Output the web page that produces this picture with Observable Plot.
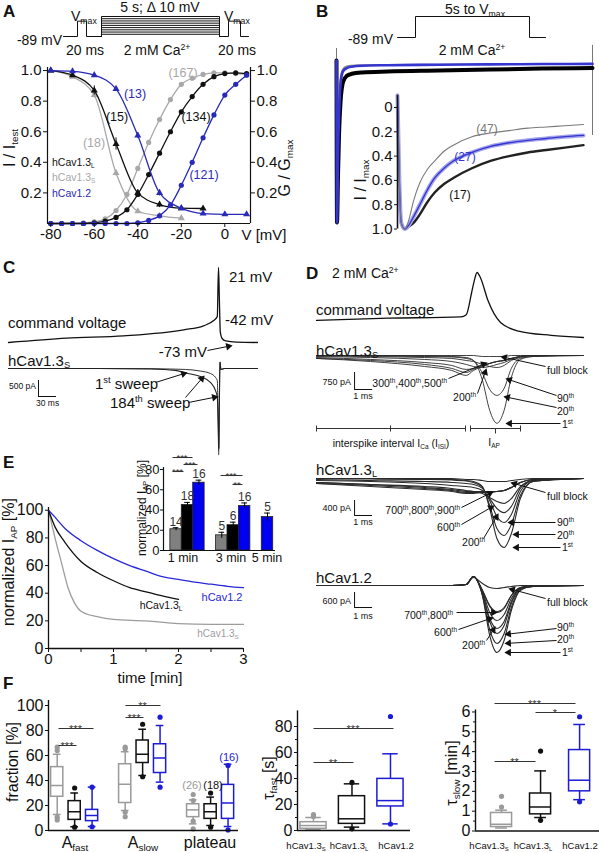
<!DOCTYPE html>
<html><head><meta charset="utf-8">
<script src="https://cdn.jsdelivr.net/npm/d3@7"></script>
<script src="https://cdn.jsdelivr.net/npm/@observablehq/plot@0.6"></script>
<style>
html,body{margin:0;padding:0;background:#fff;}
#fig{position:relative;width:599px;height:853px;overflow:hidden;font-family:Arial,"Liberation Sans",Helvetica,sans-serif;color:#111;background:#fff;}
#fig svg{position:absolute;left:0;top:0;max-width:none;}
.t{position:absolute;line-height:1;white-space:nowrap;}
.t sub{font-size:0.62em;vertical-align:-0.3em;line-height:0;}
.t sup{font-size:0.62em;vertical-align:0.6em;line-height:0;}
</style></head><body><div id="fig"></div>
<script>
// ================= DATA =================
// ---- Panel A: steady-state inactivation (triangles) and activation (circles)
const aInactV   = [-80,-70,-60,-50,-40,-30,-20,-10,0,10];
const aInactL   = [1.0,0.97,0.87,0.52,0.20,0.124,0.10,0.098];
const aInactLe  = [0.01,0.015,0.03,0.04,0.02,0.02,0.01,0.01];
const aInactS   = [1.0,0.96,0.84,0.33,0.08,0.05,0.035];
const aInactSe  = [0.01,0.01,0.02,0.02,0.01,0.01,0.01];
const aInact12  = [1.0,0.995,0.97,0.88,0.575,0.20,0.10,0.065,0.06,0.06];
const aInact12e = [0.01,0.01,0.01,0.01,0.02,0.02,0.01,0.01,0.01,0.01];
const aActV  = [-80,-75,-70,-65,-60,-55,-50,-45,-40,-35,-30,-25,-20,-15,-10,-5,0,5,10];
const aActS  = [0,0,0,0.005,0.01,0.03,0.085,0.19,0.36,0.53,0.68,0.81,0.91,0.95,0.975,0.985,0.985,0.98,0.975];
const aActL  = [0,0,0,0,0.005,0.015,0.04,0.09,0.19,0.32,0.46,0.60,0.73,0.83,0.91,0.96,0.98,0.985,0.98];
const aAct12 = [0,0,0,0,0,0,0,0,0.005,0.02,0.05,0.12,0.25,0.40,0.56,0.71,0.84,0.91,0.97];
const aXLim = [-81.5, 11.8];
const aXTicks = [-80,-60,-40,-20,0];
const aYTicks = [0.2,0.4,0.6,0.8,1.0];
// protocol schematics (mV)
const protoHold = -89, protoVmax = -20;
const protoSteps = [-79,-69,-59,-49,-39,-29,-19,-9,1];
const protoPreT = [0,14,14,23,23,38];
const protoStepT = [38,38,156,156];
const protoPostT = [156,165,165,177,177,185];
const protoBT = [0,18,18,132,132,148];

// ---- Panel B: normalized current during 5 s pulse (s)
const bT     = [0,0.01,0.03,0.05,0.08,0.13,0.2,0.3,0.5,1,2,3,4,5];
const bL     = [0,-1,-0.7,-0.45,-0.25,-0.13,-0.095,-0.082,-0.074,-0.068,-0.062,-0.056,-0.05,-0.046];
const bS     = [0,-1,-0.5,-0.26,-0.1,-0.05,-0.036,-0.031,-0.028,-0.026,-0.024,-0.022,-0.021,-0.02];
const b12    = [0,-1,-0.58,-0.34,-0.14,-0.065,-0.047,-0.038,-0.032,-0.029,-0.026,-0.024,-0.022,-0.021];
const bArtT  = [0,5], bArtTop = [0.074,0.093], bArtBot = [-1,-0.463];
// inset: I/Imax
const biT  = [0,0.05,0.1,0.2,0.3,0.43,0.6,0.8,1,1.25,1.5,2,2.5,3,3.5,4,4.5,5];
const biS  = [-0.1,0.6,0.95,1.0,0.93,0.77,0.62,0.51,0.44,0.36,0.31,0.24,0.21,0.19,0.17,0.16,0.15,0.14];
const bi12 = [-0.1,0.6,0.95,1.0,0.97,0.9,0.8,0.68,0.58,0.5,0.44,0.37,0.32,0.29,0.27,0.255,0.24,0.23];
const biL  = [-0.1,0.6,0.95,1.0,0.98,0.95,0.88,0.78,0.7,0.63,0.58,0.5,0.44,0.4,0.37,0.35,0.33,0.31];
const biTicks = [0,0.2,0.4,0.6,0.8,1.0];

// ---- Panel C: command voltage (mV) and currents (pA) vs time (ms)
const cCmdT = [0,97,192,292,325,342,348,350,351.5,353,356,362,380,415];
const cCmdV = [-73,-67.5,-64.6,-57.1,-52.1,-45.5,-40.5,21,-20,-60,-68,-71,-72.5,-73];
const cCurT = [0,150,237,278,295,320,337,345,348,349.5,350.5,351.5,352.5,354,360,415];
const cSweep1   = [0,0,-15,-60,-140,-250,-440,-690,-900,-1800,-2700,-1000,200,-30,0,0];
const cSweep184 = [0,0,-5,-20,-30,-80,-160,-280,-380,-1600,-2500,-900,200,-30,0,0];
const cScale = {t: 50, i: -375, dI: 500, dT: 30};

// ---- Panel D: AP-train currents (pA) vs time (ms)
const dCmdT = [0,4,8,8.3,8.6,8.75,8.9,9.1,9.5,10.2,11.2,13,14.8];
const dCmdV = [-47,-44,-42,-39,-8,9,20,12,-19,-50,-62,-68,-71];
const dT = [0,3,6,7.5,8.3,8.7,9.2,9.6,10.0,10.4,10.8,11.3,12,14.8];
const dS = {
  "1st":   [0,0,-20,-45,-90,-220,-1100,-2420,-2990,-2420,-970,-175,-45,0],
  "20th":  [0,-20,-45,-65,-130,-220,-790,-1500,-1760,-1450,-570,-130,-45,0],
  "90th":  [-20,-45,-90,-130,-220,-265,-395,-485,-530,-440,-220,-90,0,0],
  "200th": [-45,-90,-175,-265,-395,-485,-530,-485,-395,-310,-175,-45,0,0],
  "300th": [-90,-175,-310,-440,-615,-570,-440,-350,-265,-220,-130,-45,0,0],
  "400th": [-130,-220,-395,-570,-750,-615,-440,-350,-265,-220,-130,-45,0,0],
  "500th": [-130,-265,-485,-660,-880,-660,-485,-350,-265,-220,-130,-45,0,0],
  "block": [0,0,0,0,0,0,-45,-45,-45,-45,0,0,0,0]
};
const dL = {
  "1st":   [0,0,-15,-25,-55,-80,-215,-800,-1600,-1840,-1470,-535,-80,0],
  "20th":  [0,-15,-25,-40,-65,-105,-240,-720,-1335,-1520,-1230,-455,-80,0],
  "90th":  [-25,-55,-80,-105,-135,-160,-265,-585,-1015,-1175,-960,-345,-55,0],
  "200th": [-55,-80,-135,-185,-215,-240,-320,-535,-800,-910,-745,-265,-55,0],
  "600th": [-105,-160,-215,-265,-320,-345,-400,-505,-615,-665,-535,-215,-55,0],
  "700th": [-105,-160,-240,-295,-345,-345,-345,-345,-345,-320,-240,-105,-25,0],
  "800th": [-135,-185,-265,-320,-375,-375,-375,-345,-345,-320,-240,-105,-25,0],
  "900th": [-135,-215,-295,-345,-400,-400,-375,-375,-345,-320,-240,-105,-25,0],
  "block": [0,0,0,0,-25,-25,-55,-80,-80,-80,-55,-25,0,0]
};
const d12 = {
  "1st":   [0,0,0,0,40,360,-400,-2000,-2680,-2200,-1000,-200,-40,0],
  "20th":  [0,0,0,0,40,360,-400,-1760,-2320,-1920,-880,-160,-40,0],
  "90th":  [0,0,0,0,40,360,-320,-1440,-1920,-1600,-720,-120,-40,0],
  "200th": [0,0,0,0,40,360,-320,-1320,-1720,-1440,-640,-120,-40,0],
  "600th": [0,0,0,0,40,360,-240,-1080,-1400,-1160,-520,-120,0,0],
  "700th": [0,0,0,0,40,360,-200,-840,-1080,-920,-400,-80,0,0],
  "800th": [0,0,0,0,40,360,-200,-800,-1040,-880,-400,-80,0,0],
  "block": [0,0,0,0,40,320,80,-80,-120,-80,-40,0,0,0]
};
const dScaleT = 2.11;
const dScaleS = [-750, 750], dScaleL = [-587, 400], dScale12 = [-280, 600];

// ---- Panel E: normalized I_AP (%) vs time (min)
const eT12 = [0,0.1,0.25,0.5,0.75,1,1.25,1.5,1.75,2,2.25,2.5,2.75,3];
const eV12 = [100,95,87,78,71,65,60,56,52,50,48,46.5,45,44];
const eTL  = [0,0.1,0.25,0.5,0.75,1,1.25,1.5,1.75,2];
const eVL  = [100,88,77,63,55,49,44,41,38,35.5];
const eTS  = [0,0.05,0.1,0.2,0.3,0.4,0.5,0.75,1,1.5,2,2.5,3];
const eVS  = [100,90,80,62,44,33,27,23,21,20,18,17.5,17.5];
const eXTicks = [0,0.5,1,1.5,2,2.5,3];
const eYTicks = [0,20,40,60,80,100];
// inset bars
const eBarGroup = ["1 min","1 min","1 min","3 min","3 min","3 min","5 min"];
const eBarIso   = ["S","L","1.2","S","L","1.2","1.2"];
const eBarVal   = [21,45,67,15,25,44,33];
const eBarErr   = [1.5,2.5,2.5,3,3,3,4];
const eBarN     = [14,18,16,5,6,16,5];
const eInsetTicks = [0,20,40,60,80];

// ---- Panel F: box plot summaries
const fGroups = ["A_fast","A_slow","plateau"];
const fQ1  = [27,8.5,7.5, 22,54,46, 10.7,9.3,9.3];
const fMed = [36,15,12, 37,61,58, 16.5,15,22];
const fQ3  = [50.7,23.5,16.5, 53,72,69, 21,21,36.5];
const fLo  = [12.8,3,3.2, 16,44,38.7, 5.3,4,3.2];
const fHi  = [61,30,34.7, 63,81,84, 24.5,26.7,53];
const fOutIdx = [0,0,0,0,1,1,2,2,3,3,3,3,4,4,5,5,6,6,6,6,7,7,8,8];
const fOutVal = [66.7,64,10.7,8.5,34,2.7,34.7,3,66.7,65.5,14.7,11,85,43,90.7,34.7,28.8,24,7.5,1.3,30,2.7,52,0.5];
const tfQ1 = [1.3,5.1,18.5], tfMed = [3.8,9,23], tfQ3 = [6.4,26.4,39.7], tfLo = [0.5,2.6,5.1], tfHi = [10,35.9,59];
const tfOutIdx = [0,0,1,1,2,2], tfOutVal = [12.3,10.8,37,1.3,87.7,5];
const tsQ1 = [0.2,0.84,2.0], tsMed = [0.34,1.21,2.56], tsQ3 = [0.91,1.89,4.08], tsLo = [0.15,0.68,1.58], tsHi = [1.05,3.03,5.37];
const tsOutIdx = [0,0,1,1,2,2], tsOutVal = [1.75,1.21,4.03,0.54,5.76,1.47];

// ================= RENDER =================
const W = 599, H = 853;
const FONT = 'Arial, "Liberation Sans", Helvetica, sans-serif';
const fig = document.getElementById("fig");
const BLACK="#111", GREY_A="#a8a8a8", BLUE_A="#2a2ab8", BLUE_B="#3535d0", BLUE_E="#2828d8", GREY_E="#9d9d9d", BLUE_F="#1c1cd6", GREY_F="#9a9a9a";

function panel(frame, opts) {
  const [l, t, r, b] = frame;
  const svg = Plot.plot({
    width: W, height: H,
    marginLeft: l, marginTop: t, marginRight: W - r, marginBottom: H - b,
    style: {background: "none", fontFamily: FONT, fontSize: "14px", overflow: "visible", color: "#111"},
    color: {type: "identity"},
    ...opts
  });
  svg.style.position = "absolute"; svg.style.left = "0px"; svg.style.top = "0px";
  fig.appendChild(svg);
}
function T(html, x, y, o = {}) {
  const d = document.createElement("div");
  d.className = "t";
  d.innerHTML = html;
  const a = o.a || "start";
  const tx = a === "start" ? "0" : a === "middle" ? "-50%" : "-100%";
  d.style.left = x + "px"; d.style.top = y + "px";
  d.style.fontSize = (o.s || 15) + "px";
  if (o.c) d.style.color = o.c;
  if (o.b) d.style.fontWeight = "bold";
  d.style.transform = o.r ? `translate(-50%,-50%) rotate(${o.r}deg)` : `translate(${tx},-50%)`;
  fig.appendChild(d);
}
const pts = (xs, ys, extra = {}) => ys.map((y, i) => ({x: xs[i], y, ...extra}));
const sweeps = (t, obj) => Object.entries(obj).flatMap(([k, arr]) => arr.map((v, i) => ({t: t[i], v, k})));
const f1 = d3.format(".1f");
const minusFmt = d => d < 0 ? "-" + Math.abs(d) : String(d);

// ---------- Panel A protocol ----------
const protoA = [
  ...protoPreT.map((t, i) => ({t, v: [protoHold,protoHold,protoVmax,protoVmax,protoHold,protoHold][i], s: "pre"})),
  ...protoSteps.flatMap(sv => protoStepT.map((t, i) => ({t, v: [protoHold, sv, sv, protoHold][i], s: "st" + sv}))),
  ...protoPostT.map((t, i) => ({t, v: [protoHold,protoHold,protoVmax,protoVmax,protoHold,protoHold][i], s: "post"}))
];
panel([63,16,248,36], {
  x: {domain: [0,185], axis: null}, y: {domain: [protoHold, protoSteps[protoSteps.length-1]], axis: null},
  marks: [Plot.line(protoA, {x: "t", y: "v", z: "s", stroke: BLACK, strokeWidth: 1})]
});

// ---------- Panel A main ----------
const inL = pts(aInactV, aInactL), inS = pts(aInactV, aInactS), in12 = pts(aInactV, aInact12);
inL.forEach((d,i)=>d.e=aInactLe[i]); inS.forEach((d,i)=>d.e=aInactSe[i]); in12.forEach((d,i)=>d.e=aInact12e[i]);
const acS = pts(aActV, aActS), acL = pts(aActV, aActL), ac12 = pts(aActV, aAct12);
function seriesMarks(data, color, symbol) {
  return [
    Plot.line(data, {x: "x", y: "y", stroke: color, strokeWidth: 1.3, curve: "monotone-x"}),
    Plot.ruleX(data.filter(d => d.e), {x: "x", y1: d => d.y - d.e, y2: d => d.y + d.e, stroke: color}),
    Plot.dot(data, {x: "x", y: "y", fill: color, r: 2.6, symbol})
  ];
}
panel([47,67,250,223], {
  x: {domain: aXLim}, y: {domain: [0, 1.02]},
  marks: [
    ...seriesMarks(inS, GREY_A, "triangle"), ...seriesMarks(acS, GREY_A, "circle"),
    ...seriesMarks(inL, BLACK, "triangle"), ...seriesMarks(acL, BLACK, "circle"),
    ...seriesMarks(in12, BLUE_A, "triangle"), ...seriesMarks(ac12, BLUE_A, "circle"),
    Plot.ruleX(aXLim, {stroke: BLACK, strokeWidth: 1.2}),
    Plot.ruleY([0], {stroke: BLACK, strokeWidth: 1.2}),
    Plot.axisX({ticks: aXTicks, tickFormat: minusFmt, tickSize: 4, tickPadding: 1, fontSize: 15, label: null}),
    Plot.axisY({ticks: aYTicks, tickFormat: f1, tickSize: 4, tickPadding: 2, fontSize: 15, label: null}),
    Plot.axisY({anchor: "right", ticks: aYTicks, tickFormat: f1, tickSize: 4, tickPadding: 2, fontSize: 15, label: null})
  ]
});

// ---------- Panel B ----------
panel([397,16,545,37], {
  x: {domain: [0,148], axis: null}, y: {domain: [protoHold, protoVmax], axis: null},
  marks: [Plot.line(protoBT.map((t,i)=>({t, v: [protoHold,protoHold,protoVmax,protoVmax,protoHold,protoHold][i]})), {x:"t", y:"v", stroke: BLACK, strokeWidth: 1})]
});
panel([336,60,592,222], {
  x: {domain: [0,5], axis: null}, y: {domain: [-1, 0], axis: null},
  marks: [
    Plot.ruleX(bArtT, {y1: bArtTop, y2: bArtBot, stroke: "#777", strokeWidth: 1}),
    Plot.line(pts(bT, bL), {x:"x", y:"y", stroke: "#000", strokeWidth: 4, curve: "monotone-x"}),
    Plot.line(pts(bT, bS), {x:"x", y:"y", stroke: "#8a8a8a", strokeWidth: 1.5, curve: "monotone-x"}),
    Plot.line(pts(bT, b12), {x:"x", y:"y", stroke: BLUE_B, strokeWidth: 2.6, curve: "monotone-x"})
  ]
});
panel([397,107,583,228.5], {
  x: {domain: [0,5], axis: null}, y: {domain: [0,1], reverse: true},
  marks: [
    Plot.line(pts(biT, biL), {x:"x", y:"y", stroke: "#222", strokeWidth: 2.4, curve: "monotone-x"}),
    Plot.line(pts(biT, bi12), {x:"x", y:"y", stroke: "#a4a4ea", strokeWidth: 4, curve: "monotone-x"}),
    Plot.line(pts(biT, bi12), {x:"x", y:"y", stroke: BLUE_B, strokeWidth: 1.3, curve: "monotone-x"}),
    Plot.line(pts(biT, biS), {x:"x", y:"y", stroke: "#7a7a7a", strokeWidth: 1.1, curve: "monotone-x"}),
    Plot.ruleX([0], {y1: -0.1, y2: 1, stroke: BLACK, strokeWidth: 1.6}),
    Plot.axisY({ticks: biTicks, tickFormat: d => d === 0 ? "0" : f1(d), tickSize: 3, tickPadding: 2, fontSize: 15, label: null})
  ]
});

// ---------- Panel C ----------
panel([8,267,257,342], {
  x: {domain: [0,415], axis: null}, y: {domain: [-73, 21], axis: null},
  marks: [Plot.line(pts(cCmdT, cCmdV), {x:"x", y:"y", stroke: BLACK, strokeWidth: 1.3, curve: "monotone-x"})]
});
panel([8,368,257,454.4], {
  x: {domain: [0,415], axis: null}, y: {domain: [-2700, 0], axis: null},
  marks: [
    Plot.line(pts(cCurT, cSweep184), {x:"x", y:"y", stroke: "#333", strokeWidth: 1, curve: "monotone-x"}),
    Plot.line(pts(cCurT, cSweep1), {x:"x", y:"y", stroke: "#222", strokeWidth: 1.1, curve: "monotone-x"}),
    Plot.ruleX([cScale.t], {y1: cScale.i, y2: cScale.i - cScale.dI, stroke: BLACK}),
    Plot.ruleY([cScale.i - cScale.dI], {x1: cScale.t, x2: cScale.t + cScale.dT, stroke: BLACK})
  ]
});

// ---------- Panel D ----------
panel([316,272,583,337], {
  x: {domain: [0,14.8], axis: null}, y: {domain: [-71, 20], axis: null},
  marks: [Plot.line(pts(dCmdT, dCmdV), {x:"x", y:"y", stroke: BLACK, strokeWidth: 1.3, curve: "monotone-x"})]
});
function dPanel(top, bottom, domain, obj, sc, w) {
  panel([316, top, 583, bottom], {
    x: {domain: [0,14.8], axis: null}, y: {domain, axis: null},
    marks: [
      Plot.line(sweeps(dT, obj), {x:"t", y:"v", z:"k", stroke: "#2a2a2a", strokeWidth: w, curve: "monotone-x"}),
      Plot.ruleX([dScaleT], {y1: sc[0], y2: sc[0] - sc[1], stroke: BLACK}),
      Plot.ruleY([sc[0] - sc[1]], {x1: dScaleT, x2: dScaleT + 1, stroke: BLACK})
    ]
  });
}
dPanel(355, 423, [-3000, 0], dS, dScaleS, 0.9);
dPanel(478, 547, [-1840, 0], dL, dScaleL, 1.1);
dPanel(576, 652, [-2680, 360], d12, dScale12, 1.1);

// ---------- Panel E ----------
panel([48,507,243,648], {
  x: {domain: [0,3]}, y: {domain: [0,102]},
  marks: [
    Plot.line(pts(eTS, eVS), {x:"x", y:"y", stroke: GREY_E, strokeWidth: 1.3, curve: "monotone-x"}),
    Plot.line(pts(eTL, eVL), {x:"x", y:"y", stroke: BLACK, strokeWidth: 1.3, curve: "monotone-x"}),
    Plot.line(pts(eT12, eV12), {x:"x", y:"y", stroke: BLUE_E, strokeWidth: 1.3, curve: "monotone-x"}),
    Plot.ruleX([0], {stroke: BLACK, strokeWidth: 1.3}),
    Plot.ruleY([0], {stroke: BLACK, strokeWidth: 1.3}),
    Plot.axisX({ticks: eXTicks, tickFormat: d => Number.isInteger(d) ? String(d) : "", tickSize: 4, tickPadding: 1, fontSize: 15, label: null}),
    Plot.axisY({ticks: eYTicks, tickSize: 3, tickPadding: 2, fontSize: 16, label: null})
  ]
});
let slot = -1, prevG = null;
const barColor = {"S": "#808080", "L": "#000000", "1.2": "#0000f0"};
const eBars = eBarVal.map((v, i) => {
  slot += (prevG === null) ? 1 : (eBarGroup[i] === prevG ? 1 : 2);
  prevG = eBarGroup[i];
  return {slot, v, e: eBarErr[i], n: eBarN[i], c: barColor[eBarIso[i]]};
});
const eInsetX = [-0.6, 9.2];
panel([163,467,275,550], {
  x: {domain: eInsetX, axis: null}, y: {domain: [0,82]},
  marks: [
    Plot.rect(eBars, {x1: "slot", x2: d => d.slot + 1, y1: 0, y2: "v", fill: "c", stroke: "#222", strokeWidth: 0.8}),
    Plot.ruleX(eBars, {x: d => d.slot + 0.5, y1: d => d.v - d.e, y2: d => d.v + d.e, stroke: "#000", strokeWidth: 1}),
    Plot.ruleY(eBars, {y: d => d.v + d.e, x1: d => d.slot + 0.25, x2: d => d.slot + 0.75, stroke: "#000"}),
    Plot.text(eBars, {x: d => d.slot + 0.5, y: d => d.v + d.e, text: "n", dy: -6, fontSize: 12, fill: "#333"}),
    Plot.ruleX([eInsetX[0]], {stroke: BLACK, strokeWidth: 1.2}),
    Plot.ruleY([0], {stroke: BLACK, strokeWidth: 1.2}),
    Plot.axisY({ticks: eInsetTicks, tickSize: 3, tickPadding: 1, fontSize: 13, label: null})
  ]
});

// ---------- Panel F ----------
function boxRows(q1, med, q3, lo, hi, posFn, colors) {
  return q1.map((q, i) => ({x: posFn(i), q1: q, med: med[i], q3: q3[i], lo: lo[i], hi: hi[i], c: colors[i % 3]}));
}
function boxMarks(rows, outIdx, outVal, hw, cw) {
  const outs = outIdx.map((k, j) => ({x: rows[k].x, y: outVal[j], c: rows[k].c}));
  return [
    Plot.ruleX(rows, {x: "x", y1: "lo", y2: "q1", stroke: "c", strokeWidth: 1.5}),
    Plot.ruleX(rows, {x: "x", y1: "q3", y2: "hi", stroke: "c", strokeWidth: 1.5}),
    Plot.ruleY(rows, {y: "lo", x1: d => d.x - cw, x2: d => d.x + cw, stroke: "c", strokeWidth: 1.5}),
    Plot.ruleY(rows, {y: "hi", x1: d => d.x - cw, x2: d => d.x + cw, stroke: "c", strokeWidth: 1.5}),
    Plot.rect(rows, {x1: d => d.x - hw, x2: d => d.x + hw, y1: "q1", y2: "q3", fill: "white", stroke: "c", strokeWidth: 1.5}),
    Plot.ruleY(rows, {y: "med", x1: d => d.x - hw, x2: d => d.x + hw, stroke: "c", strokeWidth: 1.5}),
    Plot.dot(outs, {x: "x", y: "y", fill: "c", r: 2.6})
  ];
}
const isoColors = [GREY_F, BLACK, BLUE_F];
const f1X = [-0.5, 10.4];
const fRows = boxRows(fQ1, fMed, fQ3, fLo, fHi, i => Math.floor(i / 3) * 3.9 + (i % 3), isoColors);
panel([48,700,238,830], {
  x: {domain: f1X, axis: null}, y: {domain: [0,104]},
  marks: [
    ...boxMarks(fRows, fOutIdx, fOutVal, 0.35, 0.22),
    Plot.ruleX([f1X[0]], {stroke: BLACK, strokeWidth: 1.4}),
    Plot.ruleY([0], {stroke: BLACK, strokeWidth: 1.4}),
    Plot.axisY({ticks: [0,20,40,60,80,100], tickSize: 3, tickPadding: 2, fontSize: 16, label: null})
  ]
});
const f2X = [-0.415, 2.52];
panel([297,710.4,410,830], {
  x: {domain: f2X, axis: null}, y: {domain: [0,92]},
  marks: [
    ...boxMarks(boxRows(tfQ1, tfMed, tfQ3, tfLo, tfHi, i => i, isoColors), tfOutIdx, tfOutVal, 0.34, 0.2),
    Plot.ruleX([f2X[0]], {stroke: BLACK, strokeWidth: 1.4}),
    Plot.ruleY([0], {stroke: BLACK, strokeWidth: 1.4}),
    Plot.axisY({ticks: [0,20,40,60,80], tickSize: 3, tickPadding: 2, fontSize: 16, label: null}),
    Plot.axisY({ticks: [10,30,50,70], tickSize: 2, tickFormat: () => "", label: null})
  ]
});
const f3X = [-0.667, 2.51];
panel([475,709.5,599,830.5], {
  x: {domain: f3X, axis: null}, y: {domain: [0,6.1]},
  marks: [
    ...boxMarks(boxRows(tsQ1, tsMed, tsQ3, tsLo, tsHi, i => i, isoColors), tsOutIdx, tsOutVal, 0.27, 0.15),
    Plot.ruleX([f3X[0]], {stroke: BLACK, strokeWidth: 1.4}),
    Plot.ruleY([0], {stroke: BLACK, strokeWidth: 1.4}),
    Plot.axisY({ticks: [0,1,2,3,4,5,6], tickFormat: d => String(d), tickSize: 3, tickPadding: 2, fontSize: 16, label: null}),
    Plot.axisY({ticks: [0.5,1.5,2.5,3.5,4.5,5.5], tickSize: 2, tickFormat: () => "", label: null})
  ]
});

// ---------- annotation overlay (page pixels) ----------
const arrowPx = [
  [207,350,232,345],[155,382,187,372],[185,397,204,375],[188,402,218,396],
  [545,366,500,356],[448,378,487,362],[477,393,486,368],[556,395,505,378],[556,407,503,396],[560,423,505,423],
  [545,492,510,482],[461,507,493,491],[461,524,494,505],[483,538,498,513],[555,522,507,522],[555,534,512,534],[560,547,512,547],
  [545,598,508,588],[456,612,497,612],[458,629,493,617],[486,640,495,626],[556,628,504,634],[556,640,504,643],[560,652,504,652]
];
const arrowRows = arrowPx.map(([x1,y1,x2,y2]) => {
  const dx = x2-x1, dy = y2-y1, L = Math.hypot(dx,dy), ux = dx/L, uy = dy/L;
  return {x1, y1, x2: x2 - ux*5, y2: y2 - uy*5, hx: x2 - ux*4.2, hy: y2 - uy*4.2, a: Math.atan2(dx, -dy) * 180 / Math.PI};
});
// [x1, x2, y, stars, fontSize]
const sigPx = [
  [172,192,457,"***",9.5],[183,197,464,"***",9.5],[172,183,471,"***",9.5],[220,242,475,"***",9.5],[232,242,484,"**",9.5],
  [58,93,728,"***",11],[58,76,745,"***",11],[125,160,705,"**",11],[125,143,717,"***",11],
  [313,393,728,"***",11],[313,353,762,"**",11],
  [494,575,703,"***",11],[535,575,712,"*",11],[494,535,761,"**",11]
];
const bracketPx = [
  [316,428,465,428],[316,425,316,431],[390,425,390,431],[465,425,465,431],
  [470,428,520,428],[470,425,470,431],[520,425,520,431],[495,428,495,433]
];
panel([0,0,W,H], {
  x: {domain: [0,W], axis: null}, y: {domain: [0,H], range: [0,H], axis: null},
  marks: [
    Plot.link(arrowRows, {x1:"x1", y1:"y1", x2:"x2", y2:"y2", stroke: "#111", strokeWidth: 1}),
    Plot.dot(arrowRows, {x:"hx", y:"hy", rotate:"a", symbol:"triangle", r: 2.8, fill: "#111", stroke: "none"}),
    Plot.link(sigPx, {x1: d=>d[0], x2: d=>d[1], y1: d=>d[2], y2: d=>d[2], stroke: "#333", strokeWidth: 1}),
    Plot.link(bracketPx, {x1: d=>d[0], y1: d=>d[1], x2: d=>d[2], y2: d=>d[3], stroke: "#333", strokeWidth: 1})
  ]
});
sigPx.forEach(([x1,x2,y,s,fs]) => T(s, (x1+x2)/2, y + 0.5, {s: fs, a: "middle", c: "#333"}));

// ---------- text labels ----------
// A
T("A", 3, 11, {s:17, b:1});
T("V<sub>max</sub>", 71, 16, {s:14});
T("5 s; Δ 10 mV", 160, 7, {s:14, a:"middle"});
T("-89 mV", 62, 40, {s:14, a:"end"});
T("20 ms", 85, 50, {s:14, a:"middle"});
T("2 mM Ca<sup>2+</sup>", 157, 50, {s:14, a:"middle"});
T("20 ms", 237, 50, {s:14, a:"middle"});
T("V<sub>max</sub>", 224, 16, {s:14});
T("I / I<sub>test</sub>", 10, 148, {s:16, r:-90});
T("G / G<sub>max</sub>", 285, 168, {s:16, r:-90});
T("V [mV]", 264, 234, {s:15, a:"middle"});
T("(13)", 135, 94, {s:12.5, c:BLUE_A, a:"middle"});
T("(15)", 117, 117, {s:12.5, a:"middle"});
T("(18)", 94, 143, {s:12.5, c:GREY_A, a:"middle"});
T("(167)", 183, 73, {s:12.5, c:GREY_A, a:"middle"});
T("(134)", 196, 117, {s:12.5, a:"middle"});
T("(121)", 204, 175, {s:12.5, c:BLUE_A, a:"middle"});
T("hCav1.3<sub>L</sub>", 52, 162, {s:10.5});
T("hCav1.3<sub>S</sub>", 52, 177, {s:10.5, c:GREY_A});
T("hCav1.2", 52, 193, {s:10.5, c:BLUE_A});
// B
T("B", 316, 11, {s:17, b:1});
T("5s to V<sub>max</sub>", 475, 9, {s:14, a:"middle"});
T("-89 mV", 393, 39, {s:14, a:"end"});
T("2 mM Ca<sup>2+</sup>", 472, 50, {s:14, a:"middle"});
T("I / I<sub>max</sub>", 361, 180, {s:16, r:-90});
T("(47)", 487, 129, {s:12, c:"#777", a:"middle"});
T("(27)", 465, 157, {s:12, c:BLUE_B, a:"middle"});
T("(17)", 460, 195, {s:12, a:"middle"});
// C
T("C", 3, 267, {s:17, b:1});
T("21 mV", 229, 276, {s:15});
T("-42 mV", 225, 319, {s:15});
T("command voltage", 8, 322, {s:15});
T("-73 mV", 207, 351, {s:15, a:"end"});
T("hCav1.3<sub>S</sub>", 8, 360, {s:15});
T("500 pA", 36, 386, {s:8.5, a:"end"});
T("30 ms", 36, 403, {s:8.5});
T("1<sup>st</sup> sweep", 95, 383, {s:15});
T("184<sup>th</sup> sweep", 110, 402, {s:15});
// D
T("D", 306, 273, {s:17, b:1});
T("2 mM Ca<sup>2+</sup>", 332, 273, {s:14});
T("command voltage", 316, 309, {s:15});
T("hCav1.3<sub>S</sub>", 316, 350, {s:15});
T("750 pA", 351, 382, {s:9, a:"end"});
T("1 ms", 363, 396, {s:9, a:"middle"});
T("full block", 547, 370, {s:10.5});
T("300<sup>th</sup>,400<sup>th</sup>,500<sup>th</sup>", 447, 383, {s:10.5, a:"end"});
T("200<sup>th</sup>", 476, 397, {s:10.5, a:"end"});
T("90<sup>th</sup>", 557, 398, {s:10.5});
T("20<sup>th</sup>", 557, 411, {s:10.5});
T("1<sup>st</sup>", 562, 424, {s:10.5});
T("interspike interval I<sub>Ca</sub> (I<sub>ISI</sub>)", 391, 443, {s:10.5, a:"middle"});
T("I<sub>AP</sub>", 494, 442, {s:10.5, a:"middle"});
T("hCav1.3<sub>L</sub>", 316, 469, {s:15});
T("400 pA", 351, 508, {s:9, a:"end"});
T("1 ms", 363, 522, {s:9, a:"middle"});
T("full block", 547, 496, {s:10.5});
T("700<sup>th</sup>,800<sup>th</sup>,900<sup>th</sup>", 460, 510, {s:10.5, a:"end"});
T("600<sup>th</sup>", 460, 527, {s:10.5, a:"end"});
T("200<sup>th</sup>", 485, 542, {s:10.5, a:"end"});
T("90<sup>th</sup>", 557, 522, {s:10.5});
T("20<sup>th</sup>", 557, 535, {s:10.5});
T("1<sup>st</sup>", 562, 547, {s:10.5});
T("hCav1.2", 316, 577, {s:15});
T("600 pA", 351, 601, {s:9, a:"end"});
T("1 ms", 363, 616, {s:9, a:"middle"});
T("full block", 547, 602, {s:10.5});
T("700<sup>th</sup>,800<sup>th</sup>", 453, 615, {s:10.5, a:"end"});
T("600<sup>th</sup>", 457, 632, {s:10.5, a:"end"});
T("200<sup>th</sup>", 485, 645, {s:10.5, a:"end"});
T("90<sup>th</sup>", 557, 627, {s:10.5});
T("20<sup>th</sup>", 557, 639, {s:10.5});
T("1<sup>st</sup>", 562, 652, {s:10.5});
// E
T("E", 3, 462, {s:17, b:1});
T("normalized I<sub>AP</sub> [%]", 9, 562, {s:16, r:-90});
T("time [min]", 150, 677, {s:15, a:"middle"});
T("hCav1.2", 222, 597, {s:11, c:BLUE_E, a:"middle"});
T("hCav1.3<sub>L</sub>", 161, 605, {s:10.5, a:"middle"});
T("hCav1.3<sub>S</sub>", 218, 634, {s:10, c:GREY_E, a:"middle"});
T("normalized I<sub>AP</sub> [%]", 142, 508, {s:12, r:-90});
T("1 min", 183, 558, {s:12.5, a:"middle"});
T("3 min", 231, 558, {s:12.5, a:"middle"});
T("5 min", 267, 558, {s:12.5, a:"middle"});
// F
T("F", 3, 683, {s:17, b:1});
T("fraction [%]", 13, 762, {s:16, r:-90});
T("A<sub>fast</sub>", 75, 843, {s:16, a:"middle"});
T("A<sub>slow</sub>", 143, 843, {s:16, a:"middle"});
T("plateau", 210, 843, {s:16, a:"middle"});
T("(26)", 192, 785, {s:11, c:GREY_F, a:"middle"});
T("(18)", 213, 785, {s:11, a:"middle"});
T("(16)", 229, 757, {s:11, c:BLUE_F, a:"middle"});
T("τ<sub>fast</sub> [s]", 269, 778, {s:16, r:-90});
T("hCav1.3<sub>S</sub>", 306, 846, {s:9.5, a:"middle"});
T("hCav1.3<sub>L</sub>", 349, 846, {s:9.5, a:"middle"});
T("hCav1.2", 396, 846, {s:9.5, a:"middle"});
T("τ<sub>slow</sub> [min]", 452, 773, {s:16, r:-90});
T("hCav1.3<sub>S</sub>", 489, 846, {s:9.5, a:"middle"});
T("hCav1.3<sub>L</sub>", 533, 846, {s:9.5, a:"middle"});
T("hCav1.2", 580, 846, {s:9.5, a:"middle"});
</script></body></html>
